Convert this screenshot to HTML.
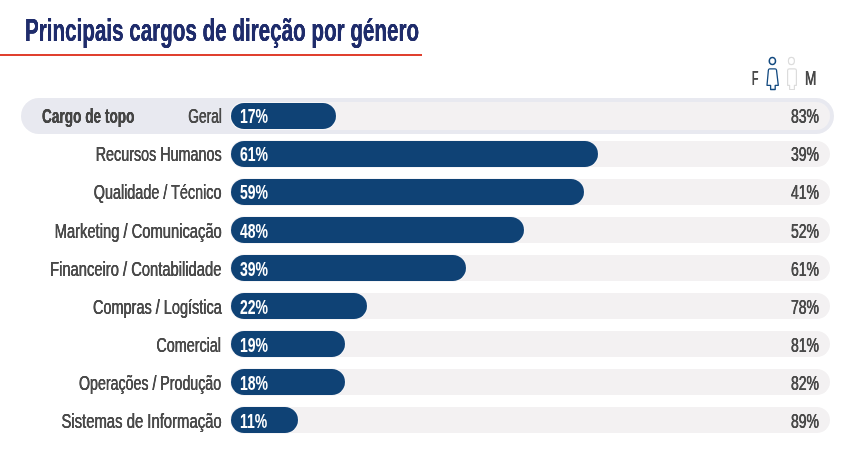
<!DOCTYPE html>
<html lang="pt">
<head>
<meta charset="utf-8">
<title>Principais cargos de direção por género</title>
<style>
html,body{margin:0;padding:0;background:#fff;}
body{width:857px;height:458px;position:relative;overflow:hidden;font-family:"Liberation Sans",sans-serif;color:#4a4a4a;}
.t{position:absolute;white-space:nowrap;line-height:26px;height:26px;font-size:20px;text-shadow:0.3px 0 0 currentColor,-0.3px 0 0 currentColor;}
.l{right:635.6px;transform-origin:100% 50%;}
.r{right:37.5px;transform-origin:100% 50%;}
.v{left:240.3px;transform-origin:0 50%;color:#fff;font-weight:bold;font-size:20px;text-shadow:none;}
.track{position:absolute;left:231px;width:599px;height:26px;border-radius:13px;background:#f3f1f2;}
.bar{position:absolute;left:231px;height:26px;border-radius:13px;background:#0f4275;box-shadow:0 0 0 1px #f6f5f7;}
#title{position:absolute;left:25px;top:13.6px;font-size:31px;line-height:34px;font-weight:bold;color:#1f2c6b;white-space:nowrap;transform-origin:0 50%;transform:scaleX(0.665);text-shadow:0.15px 0 0 currentColor,-0.15px 0 0 currentColor;}
#rule{position:absolute;left:0;top:53.7px;width:421.6px;height:2.8px;background:#e0402f;}
#pill{position:absolute;left:20.5px;top:97.5px;width:813.5px;height:36px;border-radius:18px;background:#e8e9f0;}
</style>
</head>
<body>
<div id="title">Principais cargos de direção por género</div>
<div id="rule"></div>
<div id="pill"></div>

<div class="track" style="top:101.8px;left:229.8px;width:600.6px;height:27.9px;border-radius:14px"></div>
<div class="bar" style="top:103px;width:105.0px"></div>
<div class="t l" style="top:103.0px;transform:scaleX(0.687)">Geral</div>
<div class="t v" style="top:103.0px;transform:scaleX(0.70)">17%</div>
<div class="t r" style="top:103.0px;transform:scaleX(0.70)">83%</div>
<div class="track" style="top:141px"></div>
<div class="bar" style="top:141px;width:367.3px"></div>
<div class="t l" style="top:141.17px;transform:scaleX(0.717)">Recursos Humanos</div>
<div class="t v" style="top:141.17px;transform:scaleX(0.70)">61%</div>
<div class="t r" style="top:141.17px;transform:scaleX(0.70)">39%</div>
<div class="track" style="top:179px"></div>
<div class="bar" style="top:179px;width:353.4px"></div>
<div class="t l" style="top:179.34px;transform:scaleX(0.720)">Qualidade / Técnico</div>
<div class="t v" style="top:179.34px;transform:scaleX(0.70)">59%</div>
<div class="t r" style="top:179.34px;transform:scaleX(0.70)">41%</div>
<div class="track" style="top:217px"></div>
<div class="bar" style="top:217px;width:293.2px"></div>
<div class="t l" style="top:217.51px;transform:scaleX(0.737)">Marketing / Comunicação</div>
<div class="t v" style="top:217.51px;transform:scaleX(0.70)">48%</div>
<div class="t r" style="top:217.51px;transform:scaleX(0.70)">52%</div>
<div class="track" style="top:255px"></div>
<div class="bar" style="top:255px;width:234.5px"></div>
<div class="t l" style="top:255.68px;transform:scaleX(0.737)">Financeiro / Contabilidade</div>
<div class="t v" style="top:255.68px;transform:scaleX(0.70)">39%</div>
<div class="t r" style="top:255.68px;transform:scaleX(0.70)">61%</div>
<div class="track" style="top:293px"></div>
<div class="bar" style="top:293px;width:135.5px"></div>
<div class="t l" style="top:293.85px;transform:scaleX(0.725)">Compras / Logística</div>
<div class="t v" style="top:293.85px;transform:scaleX(0.70)">22%</div>
<div class="t r" style="top:293.85px;transform:scaleX(0.70)">78%</div>
<div class="track" style="top:331px"></div>
<div class="bar" style="top:331px;width:113.5px"></div>
<div class="t l" style="top:332.02px;transform:scaleX(0.718)">Comercial</div>
<div class="t v" style="top:332.02px;transform:scaleX(0.70)">19%</div>
<div class="t r" style="top:332.02px;transform:scaleX(0.70)">81%</div>
<div class="track" style="top:369px"></div>
<div class="bar" style="top:369px;width:113.5px"></div>
<div class="t l" style="top:370.19px;transform:scaleX(0.710)">Operações / Produção</div>
<div class="t v" style="top:370.19px;transform:scaleX(0.70)">18%</div>
<div class="t r" style="top:370.19px;transform:scaleX(0.70)">82%</div>
<div class="track" style="top:407px"></div>
<div class="bar" style="top:407px;width:67.4px"></div>
<div class="t l" style="top:408.36px;transform:scaleX(0.743)">Sistemas de Informação</div>
<div class="t v" style="top:408.36px;transform:scaleX(0.70)">11%</div>
<div class="t r" style="top:408.36px;transform:scaleX(0.70)">89%</div>
<div class="t" style="left:41.8px;top:103px;font-weight:bold;color:#454545;text-shadow:0.1px 0 0 currentColor,-0.1px 0 0 currentColor;transform-origin:0 50%;transform:scaleX(0.682)">Cargo de topo</div>
<div class="t" style="left:751.5px;top:65px;transform-origin:0 50%;transform:scaleX(0.52)">F</div>
<div class="t" style="left:804.8px;top:65px;transform-origin:0 50%;transform:scaleX(0.68)">M</div>
<svg style="position:absolute;left:760px;top:52px" width="44" height="42" viewBox="760 52 44 42" fill="none">
<ellipse cx="772.4" cy="61" rx="3.1" ry="3.55" stroke="#134a80" stroke-width="1.6"/>
<path d="M769.6 68.8 H775.2 Q776.3 68.8 776.5 70 L778.3 85.3 H775.2 V89.5 H770.6 V85.3 H767 L768.4 70 Q768.6 68.8 769.6 68.8 Z" stroke="#134a80" stroke-width="1.3" stroke-linejoin="round"/>
<ellipse cx="791.4" cy="61" rx="3.0" ry="3.6" stroke="#dcdcdc" stroke-width="1.2"/>
<path d="M789.2 68.8 H794.8 Q796.4 68.8 796.4 70.6 V85.3 H794.4 V89.5 H789.6 V85.3 H787.6 V70.6 Q787.6 68.8 789.2 68.8 Z" stroke="#dcdcdc" stroke-width="1.2" stroke-linejoin="round"/>
</svg>
</body>
</html>
